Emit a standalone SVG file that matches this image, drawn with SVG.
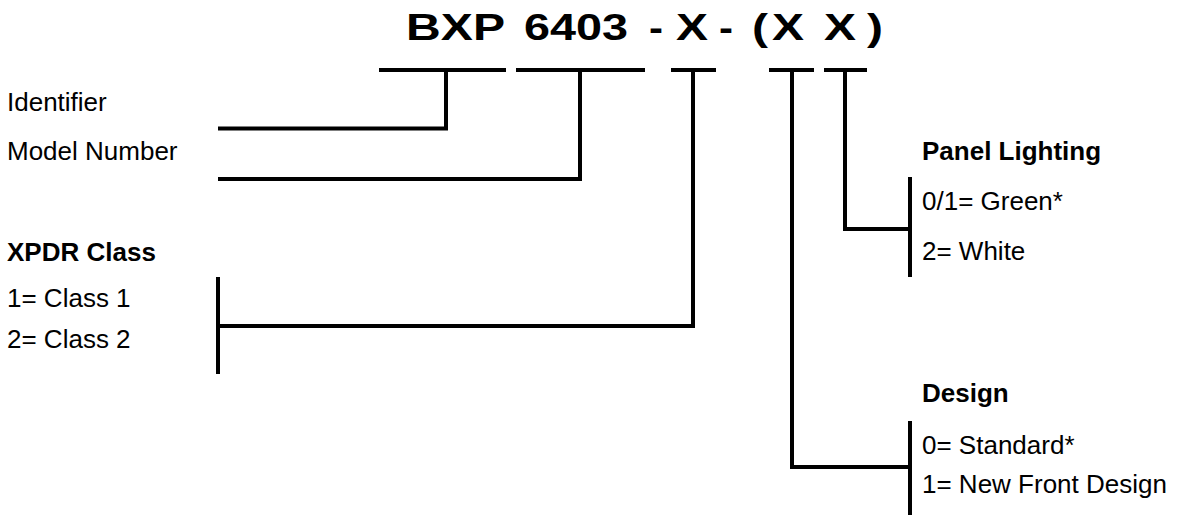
<svg xmlns="http://www.w3.org/2000/svg" width="1178" height="516" viewBox="0 0 1178 516">
<style>
  .t { font-family: "Liberation Sans", Arial, sans-serif; font-size: 26px; fill: #000; }
  .b { font-weight: bold; }
  .title { font-family: "Liberation Sans", Arial, sans-serif; font-size: 36px; font-weight: bold; fill: #000; }
  .ln { fill: none; stroke: #000; stroke-width: 4; stroke-linejoin: miter; stroke-linecap: butt; }
</style>
<rect width="1178" height="516" fill="#fff"/>
<g id="title">
  <text class="title" x="406" y="39.5" textLength="99" lengthAdjust="spacingAndGlyphs">BXP</text>
  <text class="title" x="524" y="39.5" textLength="104" lengthAdjust="spacingAndGlyphs">6403</text>
  <text class="title" x="649" y="39.5" textLength="14" lengthAdjust="spacingAndGlyphs">-</text>
  <text class="title" x="676" y="39.5" textLength="32" lengthAdjust="spacingAndGlyphs">X</text>
  <text class="title" x="719" y="39.5" textLength="14" lengthAdjust="spacingAndGlyphs">-</text>
  <text class="title" x="752" y="39.5" textLength="16" lengthAdjust="spacingAndGlyphs">(</text>
  <text class="title" x="772" y="39.5" textLength="32" lengthAdjust="spacingAndGlyphs">X</text>
  <text class="title" x="824" y="39.5" textLength="32" lengthAdjust="spacingAndGlyphs">X</text>
  <text class="title" x="867" y="39.5" textLength="16" lengthAdjust="spacingAndGlyphs">)</text>
</g>
<g id="identifier">
  <text class="t" x="7" y="111">Identifier</text>
</g>
<g id="model-number">
  <text class="t" x="7" y="160">Model Number</text>
</g>
<g id="xpdr-class">
  <text class="t b" x="7" y="261">XPDR Class</text>
  <text class="t" x="7" y="307">1= Class 1</text>
  <text class="t" x="7" y="348">2= Class 2</text>
  <line class="ln" x1="218" y1="277" x2="218" y2="374"/>
</g>
<g id="panel-lighting">
  <text class="t b" x="922" y="160">Panel Lighting</text>
  <text class="t" x="922" y="210">0/1= Green*</text>
  <text class="t" x="922" y="260">2= White</text>
  <line class="ln" x1="910" y1="177" x2="910" y2="277"/>
</g>
<g id="design">
  <text class="t b" x="922" y="402">Design</text>
  <text class="t" x="922" y="454">0= Standard*</text>
  <text class="t" x="922" y="493">1= New Front Design</text>
  <line class="ln" x1="910" y1="421" x2="910" y2="515"/>
</g>
<g id="connectors">
  <line class="ln" x1="379" y1="70" x2="506" y2="70"/>
  <line class="ln" x1="516" y1="70" x2="645" y2="70"/>
  <line class="ln" x1="671" y1="70" x2="716" y2="70"/>
  <line class="ln" x1="769" y1="70" x2="814" y2="70"/>
  <line class="ln" x1="824" y1="70" x2="867" y2="70"/>
  <polyline class="ln" points="446,70 446,128.5 218,128.5"/>
  <polyline class="ln" points="580,70 580,179 218,179"/>
  <polyline class="ln" points="693,70 693,326 218,326"/>
  <polyline class="ln" points="845,70 845,229 910,229"/>
  <polyline class="ln" points="792,70 792,467 910,467"/>
</g>
</svg>
